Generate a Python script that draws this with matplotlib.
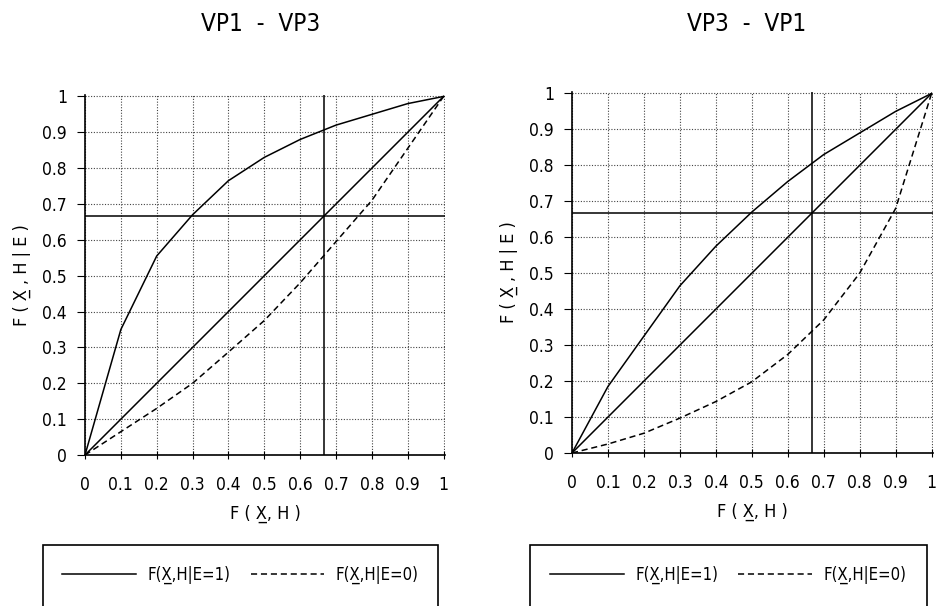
import matplotlib.pyplot as plt
from matplotlib.patches import Rectangle

# data (F(X,H) on x)
fxh = [0.0, 0.1, 0.2, 0.3, 0.4, 0.5, 0.6, 0.7, 0.8, 0.9, 1.0]
diag = fxh
left_e1 = [0.0, 0.35, 0.555, 0.67, 0.765, 0.83, 0.88, 0.92, 0.95, 0.98, 1.0]
left_e0 = [0.0, 0.065, 0.13, 0.2, 0.287, 0.375, 0.48, 0.595, 0.71, 0.855, 1.0]
right_e1 = [0.0, 0.185, 0.325, 0.465, 0.575, 0.67, 0.755, 0.83, 0.89, 0.95, 1.0]
right_e0 = [0.0, 0.025, 0.055, 0.097, 0.143, 0.198, 0.274, 0.37, 0.5, 0.68, 1.0]
cut = 2 / 3
ticks = [0, 0.1, 0.2, 0.3, 0.4, 0.5, 0.6, 0.7, 0.8, 0.9, 1]
tick_labels = ['0', '0.1', '0.2', '0.3', '0.4', '0.5', '0.6', '0.7', '0.8', '0.9', '1']

plt.rcParams['font.family'] = ['DejaVu Sans']
plt.rcParams['font.stretch'] = 'condensed'

W, H = 937, 606
fig = plt.figure(figsize=(W / 100, H / 100), dpi=100)

panels = [
    ('VP1  -  VP3', left_e1, left_e0, (85, 95, 445, 455), 43, 438, 261),
    ('VP3  -  VP1', right_e1, right_e0, (572, 92, 933, 453), 530, 927, 747),
]

for title, e1, e0, (x0, y0, x1, y1), bx0, bx1, tx in panels:
    ax = fig.add_axes([x0 / W, 1 - y1 / H, (x1 - x0) / W, (y1 - y0) / H])
    ax.plot(fxh, diag, color='black', lw=1.1)
    l1, = ax.plot(fxh, e1, color='black', lw=1.1, label='F(X\u0332,H|E=1)')
    l0, = ax.plot(fxh, e0, color='black', lw=1.1, ls=(0, (4, 2.5)), label='F(X\u0332,H|E=0)')
    ax.axhline(cut, color='black', lw=1.1)
    ax.axvline(cut, color='black', lw=1.1)
    ax.set_xlim(0, 1.004)
    ax.set_ylim(0, 1.004)
    ax.set_xticks(ticks)
    ax.set_xticklabels(tick_labels)
    ax.set_yticks(ticks)
    ax.set_yticklabels(tick_labels)
    ax.grid(True, color='#444444', ls=(0, (1, 1.5)), lw=0.8)
    for s in ['top', 'right']:
        ax.spines[s].set_visible(False)
    for s in ['left', 'bottom']:
        ax.spines[s].set_linewidth(1.2)
    ax.tick_params(axis='y', direction='out', length=6, pad=7, labelsize=12.5)
    ax.tick_params(axis='x', direction='inout', length=6, pad=12, labelsize=12.5)
    ax.set_xlabel('F ( X\u0332, H )', fontsize=13, labelpad=8)
    ax.set_ylabel('F ( X\u0332 , H | E )', fontsize=13, labelpad=8)
    fig.text(tx / W, 1 - 24 / H, title, fontsize=17.5, ha='center', va='center')

    fig.add_artist(Rectangle((bx0 / W, -0.05), (bx1 - bx0) / W, 0.05 + (H - 545) / H,
                             transform=fig.transFigure, fill=False, ec='black', lw=1.2))
    fig.legend(handles=[l1, l0], loc='center', ncol=2, frameon=False,
               bbox_to_anchor=((bx0 + bx1) / 2 / W, 1 - 575 / H),
               fontsize=12, handlelength=4.4, handletextpad=0.7, columnspacing=1.2)

fig.savefig('out.png', dpi=100)
